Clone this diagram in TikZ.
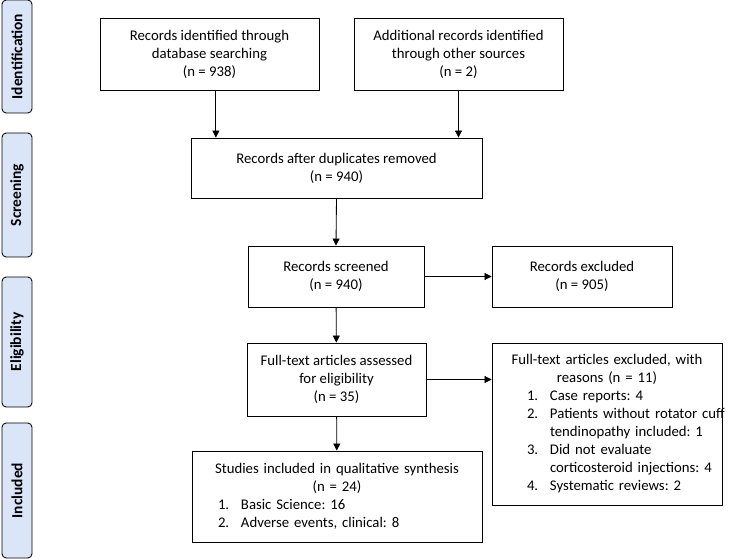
\documentclass[tikz,border=0pt]{standalone}
\usepackage{fontspec}
\setmainfont{Carlito}
\usetikzlibrary{arrows.meta}
\definecolor{phaseblue}{RGB}{218,230,248}
\tikzset{
	box/.style={draw, line width=0.6pt, inner sep=0pt, font=\fontsize{10.5}{12.8}\selectfont},
	phase/.style={draw, line width=0.6pt, rounded corners=3pt, fill=phaseblue, rotate=90, inner sep=0pt, minimum height=0.75cm, font=\bfseries\fontsize{11}{12}\selectfont},
	flow/.style={line width=0.6pt, -{Triangle[length=5pt, width=5pt]}}
}
\newcommand\reason[2]{\par\makebox[0.575cm][l]{#1}#2}
\newcommand\reasoncont{\newline\hspace*{0.575cm}}
\frenchspacing
\begin{document}
\begin{tikzpicture}
	\useasboundingbox (0,0) rectangle (18.375,-13.975);
	% phases
	\node[phase, minimum width=2.825cm] (ident) at (0.425,-1.4125) {Identification};
	\node[phase, minimum width=3.1cm] (scrn) at (0.425,-4.875) {Screening};
	\node[phase, minimum width=3.25cm] (elig) at (0.425,-8.55) {Eligibility};
	\node[phase, minimum width=3.375cm] (incd) at (0.425,-12.2625) {Included};
	% boxes
	\node[box, align=center, minimum width=5.475cm, minimum height=1.8cm] (db) at (5.2375,-1.35) {Records identified through\\ database searching\\ (n = 938)};
	\node[box, align=center, minimum width=5.225cm, minimum height=1.8cm] (other) at (11.4625,-1.35) {Additional records identified\\ through other sources\\ (n = 2)};
	\node[box, align=center, minimum width=7.275cm, minimum height=1.5cm] (dup) at (8.4125,-4.2) {Records after duplicates removed\\ (n = 940)};
	\node[box, align=center, minimum width=4.4cm, minimum height=1.525cm] (scr) at (8.4,-6.9125) {Records screened\\ (n = 940)};
	\node[box, align=center, minimum width=4.5cm, minimum height=1.525cm] (exc) at (14.55,-6.9125) {Records excluded\\ (n = 905)};
	\node[box, align=center, minimum width=4.475cm, minimum height=1.825cm] (full) at (8.4125,-9.4875) {Full-text articles assessed\\ for eligibility\\ (n = 35)};
	\node[box, text width=5.75cm, minimum height=4.05cm] (reas) at (15.175,-10.6) {\centering Full-text articles excluded, with\\ reasons (n = 11)\par
		\raggedright\leftskip=0.875cm
		\reason{1.}{Case reports: 4}
		\reason{2.}{\mbox{Patients without rotator cuff}\reasoncont tendinopathy included: 1}
		\reason{3.}{Did not evaluate\reasoncont corticosteroid injections: 4}
		\reason{4.}{Systematic reviews: 2}\par};
	\node[box, text width=7.25cm, minimum height=2.275cm] (incl) at (8.425,-12.4125) {\centering Studies included in qualitative synthesis\\ (n = 24)\par
		\raggedright\leftskip=0.65cm
		\reason{1.}{Basic Science: 16}
		\reason{2.}{Adverse events, clinical: 8}\par};
	% arrows
	\draw[flow] ([xshift=0.16cm]db.south) -- ([xshift=0.16cm]db.south |- dup.north);
	\draw[flow] (other.south) -- (other.south |- dup.north);
	\draw[flow] (dup.south) -- (scr.north);
	\draw[flow] (scr) -- (exc);
	\draw[flow] (scr) -- (full);
	\draw[flow] (full.east) -- (full.east -| reas.west);
	\draw[flow] (full) -- (incl);
\end{tikzpicture}
\end{document}
